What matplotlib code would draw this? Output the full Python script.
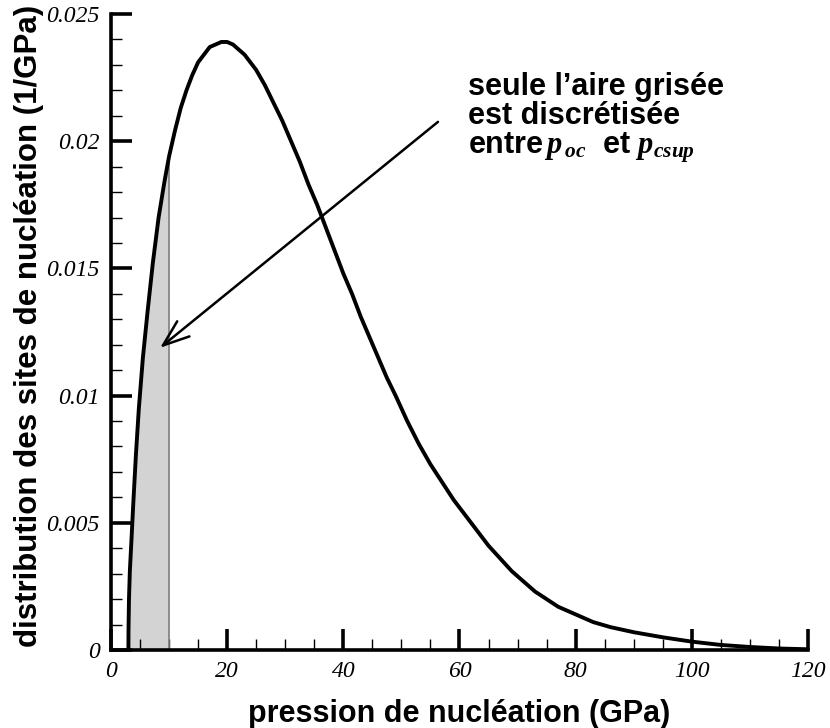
#!/usr/bin/python3

import matplotlib
matplotlib.use("Agg")
import matplotlib.pyplot as plt
import numpy as np

# values (pressure in GPa, density in 1/GPa)
pression = [3.0, 3.02, 3.1, 3.25, 3.5, 3.85, 4.3, 4.8, 5.5, 6.3, 7.2, 8.2,
            9.2, 10.0, 11.0, 12.0, 13.0, 14.0, 15.0, 16.0, 17.0, 18.0,
            19.0, 20.0, 21.0, 22.0, 23.0, 24.0, 25.0, 26.5, 28.0, 29.5,
            31.0, 32.5, 34.0, 35.5, 37.0, 38.5, 40.0, 41.5, 43.0, 44.5,
            46.0, 47.5, 49.0, 51.0, 53.0, 55.0, 57.0, 59.0, 61.0, 63.0,
            65.0, 67.0, 69.0, 71.0, 73.0, 75.0, 77.0, 80.0, 83.0, 86.0,
            90.0, 95.0, 100.0, 105.0, 110.0, 115.0, 120.0]
densite = [0.0, 0.0008, 0.0020, 0.0031, 0.0042, 0.0058, 0.0077, 0.0095,
           0.0115, 0.0133, 0.0152, 0.0170, 0.0184, 0.0194, 0.0204, 0.0213,
           0.0220, 0.0226, 0.0231, 0.0234, 0.0237, 0.0238, 0.0239, 0.0239,
           0.0238, 0.0236, 0.0234, 0.0231, 0.0228, 0.0222, 0.0215, 0.0208,
           0.0200, 0.0192, 0.0183, 0.0175, 0.0166, 0.0157, 0.0148, 0.0140,
           0.0131, 0.0123, 0.0115, 0.0107, 0.0100, 0.0090, 0.0081, 0.0073,
           0.0066, 0.0059, 0.0053, 0.0047, 0.0041, 0.0036, 0.0031, 0.0027,
           0.0023, 0.0020, 0.0017, 0.0014, 0.0011, 0.0009, 0.0007, 0.0005,
           0.00033, 0.0002, 0.00012, 0.00006, 0.00003]
p_csup = 10.0
x_ticks = [0, 20, 40, 60, 80, 100, 120]
y_ticks = [0, 0.005, 0.01, 0.015, 0.02, 0.025]
y_tick_labels = ["0", "0.005", "0.01", "0.015", "0.02", "0.025"]

plt.rcParams["mathtext.fontset"] = "custom"
plt.rcParams["mathtext.it"] = "Liberation Serif:italic:bold"
plt.rcParams["mathtext.rm"] = "Liberation Serif:bold"

fig = plt.figure(figsize=(8.3, 7.28), dpi=100)
ax = fig.add_axes([0.1337, 0.1071, 0.8398, 0.8737])

x = np.array(pression)
y = np.array(densite)

# shaded part between p_oc and p_csup
mask = x <= p_csup
ax.fill_between(x[mask], 0, y[mask], color="#d3d3d3", lw=0, zorder=1)
ax.plot([p_csup, p_csup], [0, y[mask][-1]], color="#808080", lw=1.2,
        zorder=2)

ax.plot(x, y, color="black", lw=2.8, solid_capstyle="butt",
        solid_joinstyle="round", zorder=3, clip_on=False)

ax.annotate("", xy=(8.45, 0.01188), xytext=(56.3, 0.02076),
            arrowprops=dict(arrowstyle="->,head_length=1.9,head_width=0.7",
                            color="black", lw=1.8, shrinkA=0, shrinkB=0))

ax.text(61.5, 0.0227,
        "seule l\u2019aire grisée\nest discrétisée\n"
        "entre$\\,p_{\\,oc}$  et $p_{csup}$",
        fontsize=22, fontweight="bold", family="Liberation Sans",
        va="top", ha="left", linespacing=0.95)

ax.set_xlim(0, 120)
ax.set_ylim(0, 0.025)
ax.spines["top"].set_visible(False)
ax.spines["right"].set_visible(False)
ax.spines["left"].set_linewidth(2.6)
ax.spines["bottom"].set_linewidth(2.6)

ax.set_xticks(x_ticks)
ax.set_xticklabels([str(t) for t in x_ticks])
ax.set_xticks(np.arange(0, 121, 5), minor=True)
ax.set_yticks(y_ticks)
ax.set_yticklabels(y_tick_labels)
ax.set_yticks(np.arange(0, 0.0251, 0.001), minor=True)

ax.tick_params(which="major", direction="in", length=15, width=2.6,
               labelsize=17, pad=8)
ax.tick_params(which="minor", direction="in", length=8, width=1)
for lab in ax.get_xticklabels() + ax.get_yticklabels():
    lab.set_family("Liberation Serif")
    lab.set_style("italic")

ax.set_xlabel("pression de nucléation (GPa)", fontsize=22,
              fontweight="bold", family="Liberation Sans", labelpad=12)
ax.set_ylabel("distribution des sites de nucléation (1/GPa)", fontsize=22.5,
              fontweight="bold", family="Liberation Sans", labelpad=2,
              y=0.51)

fig.savefig("out.png", dpi=100)
